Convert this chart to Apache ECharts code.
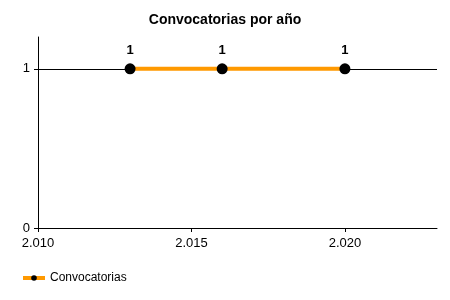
<!DOCTYPE html>
<html><head><meta charset="utf-8">
<script src="https://cdn.jsdelivr.net/npm/echarts@6/dist/echarts.min.js"></script>
<style>html,body{margin:0;padding:0;background:#fff}#c{width:450px;height:300px}</style>
</head><body><div id="c"></div>
<script>
const years = [2013, 2016, 2020];
const values = [1, 1, 1];
const yTicks = [0, 1];
const xTicks = [2010, 2015, 2020];
const seriesName = 'Convocatorias';
const titleText = 'Convocatorias por año';

const chart = echarts.init(document.getElementById('c'), null, {renderer: 'canvas'});
const fmt = v => String(Math.round(v)).replace(/\B(?=(\d{3})+(?!\d))/g, '.');
const FONT = 'Liberation Sans';
chart.setOption({
  animation: false,
  backgroundColor: '#fff',
  textStyle: {fontFamily: FONT},
  title: {
    text: titleText, left: 'center', top: 8,
    textStyle: {fontSize: 14, fontWeight: 'bold', color: '#000', fontFamily: FONT}
  },
  legend: {
    left: 21, top: 272, itemWidth: 22, itemHeight: 7, itemGap: 4, padding: 0,
    textStyle: {fontSize: 12, color: '#000', fontFamily: FONT},
    lineStyle: {width: 4},
    data: [seriesName]
  },
  grid: {left: 38, right: 13, top: 37, bottom: 72},
  xAxis: {
    type: 'value', min: 2010, max: 2023, interval: 5,
    axisLine: {show: true, lineStyle: {color: '#000', width: 1}},
    axisTick: {show: true, length: 4, lineStyle: {color: '#000'}, customValues: xTicks},
    axisLabel: {formatter: fmt, color: '#000', fontSize: 13, margin: 9, customValues: xTicks},
    splitLine: {show: false}
  },
  yAxis: {
    type: 'value', min: 0, max: 1.2, interval: 1,
    axisLine: {show: true, lineStyle: {color: '#000', width: 1}},
    axisTick: {show: true, length: 4, lineStyle: {color: '#000'}, customValues: yTicks},
    axisLabel: {color: '#000', fontSize: 13, margin: 8, customValues: yTicks},
    splitLine: {show: false}
  },
  series: [{
    name: seriesName, type: 'line',
    data: years.map((y, i) => [y, values[i]]),
    lineStyle: {color: '#FF9900', width: 4},
    itemStyle: {color: '#000'},
    symbol: 'circle', symbolSize: 11, showAllSymbol: true,
    label: {show: true, position: 'top', distance: 6, fontWeight: 'bold', fontSize: 13, color: '#000', fontFamily: FONT,
      formatter: p => p.value[1]},
    markLine: {
      silent: true, symbol: 'none', label: {show: false}, z: 1,
      lineStyle: {color: '#000', width: 1, type: 'solid'},
      emphasis: {disabled: true},
      data: [{yAxis: yTicks[1]}]
    }
  }]
});
</script></body></html>
